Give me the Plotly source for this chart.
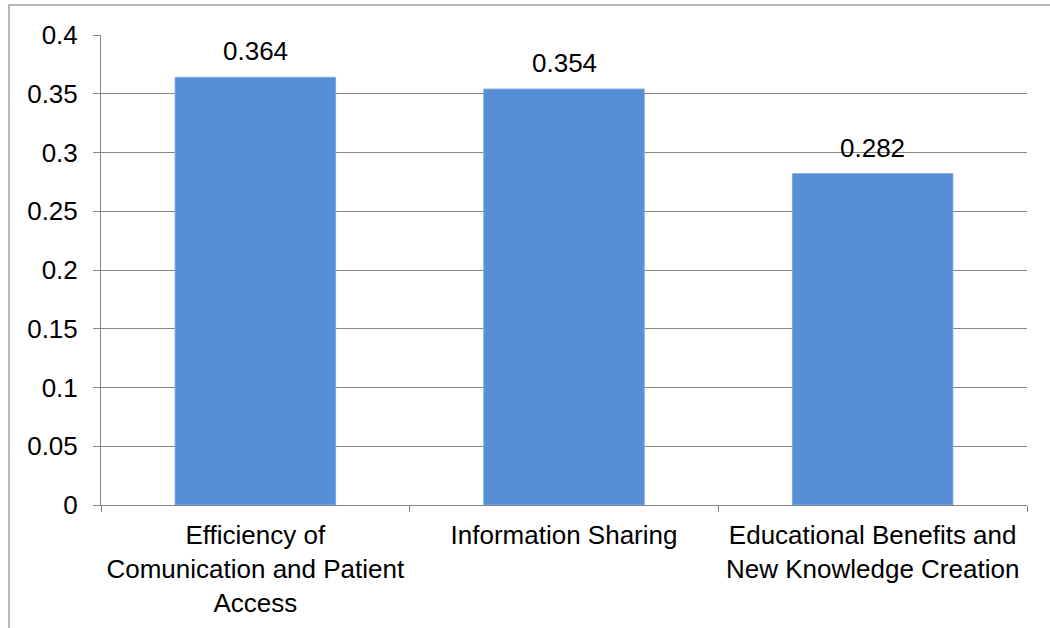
import plotly.graph_objects as go

categories = [
    "Efficiency of<br>Comunication and Patient<br>Access",
    "Information Sharing",
    "Educational Benefits and<br>New Knowledge Creation",
]
values = [0.364, 0.354, 0.282]
value_labels = ["0.364", "0.354", "0.282"]
y_tickvals = [0, 0.05, 0.1, 0.15, 0.2, 0.25, 0.3, 0.35, 0.4]
y_ticktext = ["0", "0.05", "0.1", "0.15", "0.2", "0.25", "0.3", "0.35", "0.4"]

FONT = "Liberation Sans, Arial, sans-serif"
GREY = "#868686"

fig = go.Figure(
    go.Bar(
        x=categories,
        y=values,
        marker=dict(color="#558ED5", line=dict(color="#7FA8E0", width=1)),
        width=0.52,
    )
)

annotations = [
    dict(
        x=c, y=v, text=t, xref="x", yref="y",
        showarrow=False, yanchor="bottom", yshift=9,
        font=dict(family=FONT, size=26, color="#000000"),
    )
    for c, v, t in zip(categories, values, value_labels)
]

fig.update_layout(
    width=1050,
    height=628,
    margin=dict(l=101, r=23, t=35, b=123),
    paper_bgcolor="white",
    plot_bgcolor="white",
    showlegend=False,
    font=dict(family=FONT, size=26, color="#000000"),
    annotations=annotations,
    shapes=[
        dict(
            type="rect", xref="paper", yref="paper",
            x0=(9 - 101) / 926, x1=(1060 - 101) / 926,
            y0=-(640 - 505) / 470, y1=1 + 30 / 470,
            line=dict(color="#A0A0A0", width=1.5),
            fillcolor="rgba(0,0,0,0)",
            layer="below",
        )
    ],
)

fig.update_yaxes(
    range=[0, 0.4],
    tickvals=y_tickvals,
    ticktext=y_ticktext,
    showgrid=True,
    gridcolor=GREY,
    gridwidth=1,
    zeroline=False,
    showline=True,
    linecolor=GREY,
    linewidth=1,
    ticks="outside",
    ticklen=7,
    tickcolor=GREY,
    tickfont=dict(family=FONT, size=26, color="#000000"),
    ticklabelstandoff=10,
    automargin=False,
)

fig.update_xaxes(
    showgrid=False,
    showline=True,
    linecolor=GREY,
    linewidth=1,
    ticks="outside",
    tickson="boundaries",
    ticklen=6,
    tickcolor=GREY,
    tickfont=dict(family=FONT, size=26, color="#000000"),
    tickangle=0,
    ticklabelstandoff=7,
    automargin=False,
)

fig.write_html("out.html")
